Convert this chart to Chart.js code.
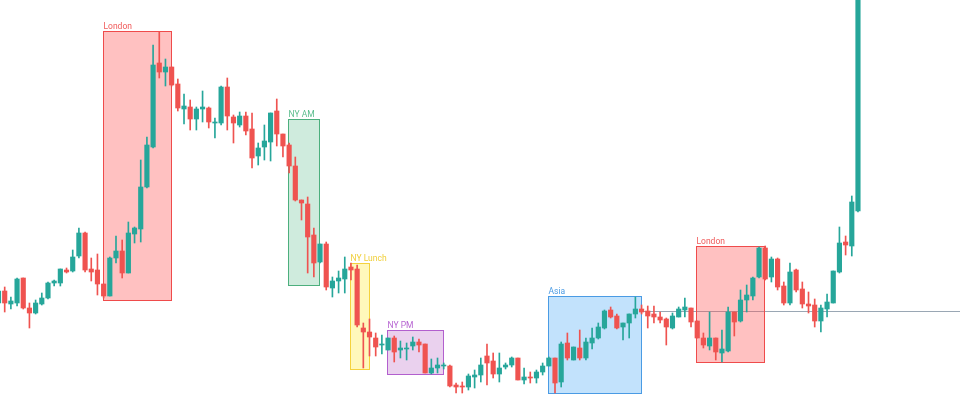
<!DOCTYPE html>
<html>
<head>
<meta charset="utf-8">
<script src="https://cdn.jsdelivr.net/npm/chart.js@4/dist/chart.umd.min.js"></script>
<style>
  html, body { margin: 0; padding: 0; background: #ffffff; }
  #wrap { position: relative; width: 960px; height: 394px; }
</style>
</head>
<body>
<div id="wrap"><canvas id="c"></canvas></div>
<script>
// ---- candle data (index = bar number) ----
const opens = [91,103,90,91,116,86,81,90,96,111, 111,124,123,138,161,125,124,110,98,136,
  143,121,160,165,207,247,331,322,327,310, 285,287,275,285,286,271,271,307,277,269,
  278,265,238,247,252,283,260,249,228,194, 190,159,132,150,106,113,115,127,125,66,
  62,56,49,44,56,44,45,48,52,50, 21,26,28,28,9,8,7,17,19,38,
  33,20,27,29,36,14,17,16,22,28, 36,12,51,34,46,36,51,56,66,84,
  78,67,71,80,85,83,80,77,75,66, 77,84,86,73,56,48,56,41,43,82,
  73,94,98,117,146,117,135,108,91,124, 105,90,89,73,85,91,122,152,148,183];
const closes = [103,91,93,115,86,81,91,96,111,113, 125,122,137,161,124,122,110,98,136,143,
  121,161,166,207,249,329,322,327,309,286, 288,275,285,287,272,272,307,278,271,278,
  263,236,246,253,281,260,248,228,194,191, 157,131,150,107,113,116,125,124,69,62,
  57,47,50,56,42,46,46,52,49,21, 26,29,29,8,7,7,18,19,29,31,
  20,26,29,36,14,17,16,22,28,36, 11,50,36,47,36,52,56,67,83,77,
  66,71,80,85,82,78,77,74,67,78, 85,87,72,56,49,56,42,45,82,72,
  94,99,116,146,115,135,107,91,122,104, 90,88,73,86,92,123,151,149,192,420];
const highs = [105,107,97,116,116,91,94,101,112,114, 125,126,144,166,162,136,140,110,137,158,
  154,172,167,234,257,349,362,335,327,315, 300,294,287,303,287,276,308,316,279,282,
  282,281,251,269,281,295,260,251,237,194, 197,166,150,152,117,123,137,131,129,71,
  75,61,59,56,58,53,51,57,55,50, 35,36,31,29,11,12,20,24,36,50,
  41,41,31,37,36,26,22,24,31,37, 36,52,61,47,64,56,66,71,84,87,
  80,71,80,97,89,88,88,82,76,81, 87,96,86,73,61,82,56,64,87,82,
  104,109,117,147,148,137,136,112,131,125, 112,102,95,89,100,123,167,158,198,425];
const lows = [89,82,85,88,85,66,80,89,95,108, 108,121,122,136,122,113,99,96,98,131,
  116,121,151,152,206,246,316,308,308,283, 270,264,264,272,266,256,269,264,251,267,
  259,226,229,234,233,248,237,221,193,174, 121,117,131,104,97,101,101,114,67,26,
  38,38,40,44,32,36,34,44,42,21, 20,21,25,7,1,1,4,6,12,9,
  16,12,25,27,14,10,11,11,19,28, 1,7,34,34,34,34,45,55,65,76,
  65,54,56,76,80,66,71,71,49,65, 77,77,67,56,46,44,34,32,42,58,
  72,82,94,116,114,112,104,89,89,102, 86,81,67,62,77,91,121,139,138,182];

// ---- session boxes ----
const sessionNames = ['London','NY AM','NY Lunch','NY PM','Asia','London'];
const sessionStart = [17, 47, 57, 63, 89, 113];
const sessionEnd   = [28, 52, 60, 72, 104, 124];
const sessionHigh  = [363, 275, 131, 64, 98, 148];
const sessionLow   = [94, 109, 25, 20, 1, 32];

// ---- level line ----
const levelPrice = 83;
const levelStart = 104;

// ---- styles ----
const UP = '#26a69a', DOWN = '#ef5350';
const sessionStyle = {
  'London':   { fill: 'rgba(255,82,82,0.36)',  line: '#ef4b4b', text: '#f05a5a' },
  'NY AM':    { fill: 'rgba(76,180,130,0.27)', line: '#4caf7d', text: '#5cbd8e' },
  'NY Lunch': { fill: 'rgba(255,235,59,0.35)', line: '#f5d23c', text: '#f0cf3a' },
  'NY PM':    { fill: 'rgba(186,104,200,0.30)',line: '#b25fce', text: '#b765d2' },
  'Asia':     { fill: 'rgba(66,165,245,0.32)', line: '#4a9be4', text: '#4a9be4' }
};

const idx = opens.map((_, i) => i);
const colors = opens.map((o, i) => closes[i] >= o ? UP : DOWN);
const wickData = idx.map(i => ({ x: i, y: [lows[i], highs[i]] }));
const bodyData = idx.map(i => ({ x: i, y: [Math.min(opens[i], closes[i]), Math.max(opens[i], closes[i])] }));

const overlay = {
  id: 'sessions',
  beforeDatasetsDraw(chart) {
    const ctx = chart.ctx, xs = chart.scales.x, ys = chart.scales.y;
    ctx.save();
    // level line
    const ly = Math.round(ys.getPixelForValue(levelPrice)) + 0.5;
    ctx.strokeStyle = '#9aa7b4';
    ctx.lineWidth = 1;
    ctx.beginPath();
    ctx.moveTo(xs.getPixelForValue(levelStart), ly);
    ctx.lineTo(chart.chartArea.right, ly);
    ctx.stroke();
    // boxes
    sessionNames.forEach((name, k) => {
      const st = sessionStyle[name];
      const x1 = Math.round(xs.getPixelForValue(sessionStart[k])) - 0.5;
      const x2 = Math.round(xs.getPixelForValue(sessionEnd[k])) - 0.5;
      const y1 = Math.round(ys.getPixelForValue(sessionHigh[k])) + 0.5;
      const y2 = Math.round(ys.getPixelForValue(sessionLow[k])) + 0.5;
      ctx.fillStyle = st.fill;
      ctx.fillRect(x1, y1, x2 - x1, y2 - y1);
      ctx.strokeStyle = st.line;
      ctx.lineWidth = 1;
      ctx.strokeRect(x1, y1, x2 - x1, y2 - y1);
      ctx.fillStyle = st.text;
      ctx.font = '8.5px Roboto, "Open Sans", sans-serif';
      ctx.textBaseline = 'alphabetic';
      ctx.textAlign = 'left';
      ctx.fillText(name, x1, y1 - 3);
    });
    ctx.restore();
  }
};

new Chart(document.getElementById('c'), {
  type: 'bar',
  data: {
    datasets: [
      { label: 'wick', data: wickData, backgroundColor: colors, borderWidth: 0,
        barThickness: 1, grouped: false, order: 2 },
      { label: 'body', data: bodyData, backgroundColor: colors, borderWidth: 0,
        barThickness: 4.5, minBarLength: 1, grouped: false, order: 1 }
    ]
  },
  options: {
    responsive: true,
    maintainAspectRatio: false,
    animation: false,
    layout: { padding: 0 },
    plugins: { legend: { display: false }, tooltip: { enabled: false } },
    scales: {
      x: { type: 'linear', min: 0.24, max: 155.5, offset: false, display: false, grid: { display: false } },
      y: { type: 'linear', min: 0, max: 394, display: false, grid: { display: false } }
    }
  },
  plugins: [overlay]
});
</script>
</body>
</html>
